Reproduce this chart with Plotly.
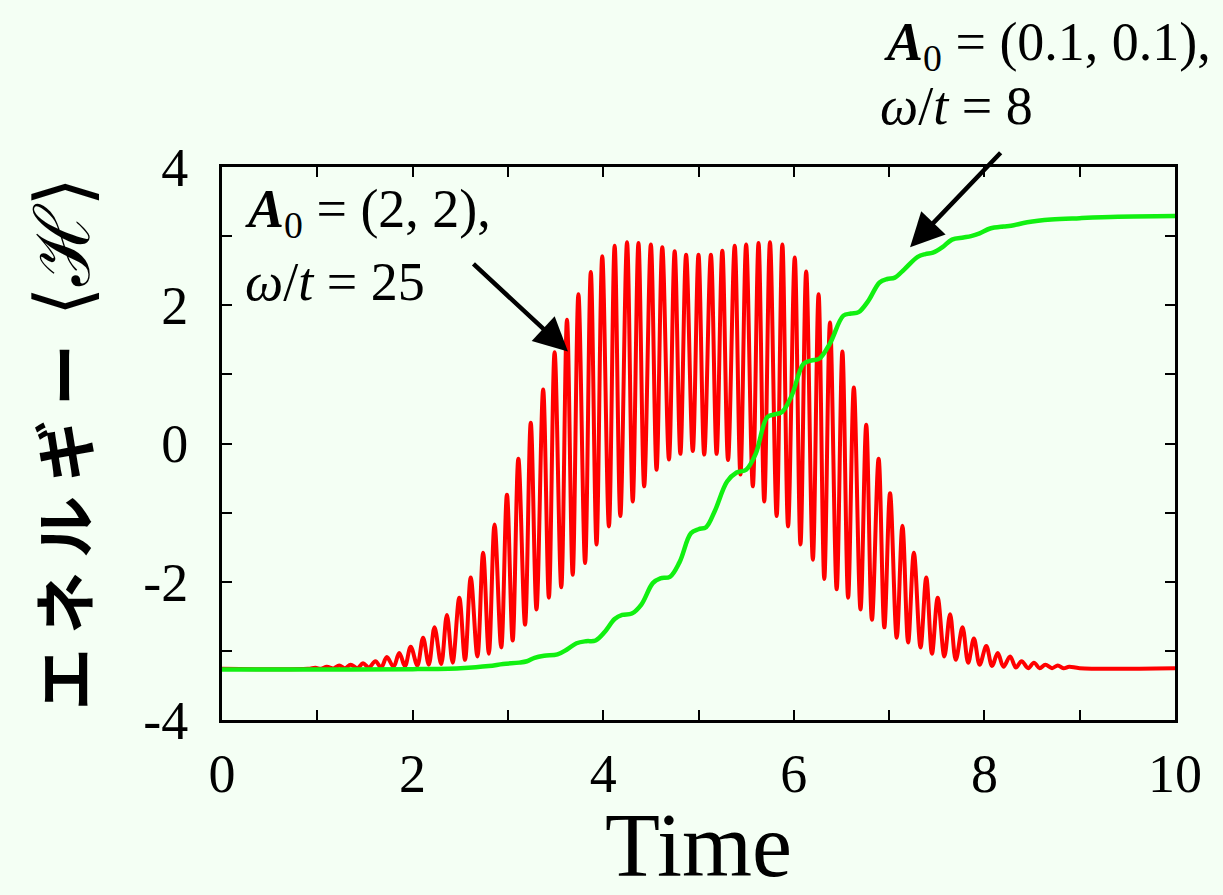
import plotly.graph_objects as go

# ---------------- data ----------------
# red curve: A0=(2,2), w/t=25 -- local maxima and minima
red_peak_t = [0.98, 1.10, 1.23, 1.35, 1.48, 1.61, 1.73, 1.86, 1.98, 2.11, 2.23, 2.36, 2.49, 2.61,
              2.74, 2.86, 2.99, 3.11, 3.24, 3.37, 3.49, 3.62, 3.74, 3.87, 3.99, 4.12, 4.25,
              4.37, 4.50, 4.62, 4.75, 4.87, 5.00, 5.13, 5.25, 5.38, 5.50, 5.63, 5.75, 5.88,
              6.01, 6.13, 6.26, 6.38, 6.51, 6.63, 6.76, 6.89, 7.01, 7.14, 7.26, 7.39, 7.51,
              7.64, 7.77, 7.89, 8.02, 8.14, 8.27, 8.39, 8.52, 8.64, 8.77, 8.89]
red_peak_v = [-3.245, -3.23, -3.21, -3.20, -3.18, -3.15, -3.09, -3.03, -2.94, -2.81, -2.66, -2.48,
              -2.23, -1.94, -1.58, -1.17, -0.74, -0.22, 0.30, 0.78, 1.32, 1.79, 2.16, 2.48,
              2.71, 2.86, 2.91, 2.90, 2.88, 2.84, 2.78, 2.73, 2.73, 2.73, 2.79, 2.86, 2.88,
              2.90, 2.91, 2.88, 2.69, 2.49, 2.16, 1.75, 1.33, 0.81, 0.27, -0.22, -0.72, -1.19,
              -1.58, -1.94, -2.23, -2.47, -2.66, -2.82, -2.93, -3.03, -3.08, -3.15, -3.17,
              -3.20, -3.21, -3.23]
red_trough_t = [1.04, 1.17, 1.29, 1.42, 1.54, 1.67, 1.80, 1.92, 2.05, 2.17, 2.30, 2.42, 2.55, 2.68,
                2.80, 2.93, 3.05, 3.18, 3.30, 3.43, 3.56, 3.68, 3.81, 3.93, 4.06, 4.18, 4.31,
                4.43, 4.56, 4.69, 4.81, 4.94, 5.06, 5.19, 5.31, 5.44, 5.57, 5.69, 5.82, 5.94,
                6.07, 6.20, 6.32, 6.45, 6.57, 6.70, 6.82, 6.95, 7.08, 7.20, 7.33, 7.45, 7.58,
                7.70, 7.83, 7.95, 8.08, 8.20, 8.33, 8.46, 8.58, 8.71, 8.83]
red_trough_v = [-3.26, -3.255, -3.25, -3.25, -3.24, -3.24, -3.23, -3.22, -3.21, -3.20, -3.19, -3.17,
                -3.13, -3.08, -3.04, -2.95, -2.85, -2.62, -2.40, -2.23, -2.08, -1.90, -1.73,
                -1.46, -1.20, -1.05, -0.84, -0.62, -0.38, -0.23, -0.15, -0.11, -0.16, -0.15,
                -0.24, -0.45, -0.62, -0.84, -1.05, -1.20, -1.46, -1.68, -1.96, -2.11, -2.23,
                -2.40, -2.55, -2.66, -2.81, -2.88, -2.95, -3.04, -3.08, -3.13, -3.17, -3.20,
                -3.22, -3.23, -3.24, -3.25, -3.25, -3.25, -3.25]
red_flat_t = [0.0, 0.9, 9.0, 10.0]
red_flat_v = [-3.26, -3.26, -3.25, -3.25]

# green curve: A0=(0.1,0.1), w/t=8
green_t = [0.0, 1.0, 2.0, 2.5, 2.8, 2.95, 3.12, 3.2, 3.28, 3.38, 3.52, 3.62, 3.72, 3.82, 3.92,
           4.02, 4.12, 4.2, 4.3, 4.4, 4.52, 4.6, 4.7, 4.8, 4.92, 5.0, 5.08, 5.17, 5.3, 5.4,
           5.5, 5.6, 5.72, 5.8, 5.88, 5.98, 6.1, 6.18, 6.27, 6.38, 6.52, 6.6, 6.68, 6.78, 6.9,
           6.98, 7.06, 7.16, 7.3, 7.38, 7.46, 7.56, 7.66, 7.78, 7.86, 7.95, 8.06, 8.2, 8.28,
           8.45, 8.7, 9.0, 9.4, 10.0]
green_v = [-3.27, -3.27, -3.265, -3.25, -3.22, -3.19, -3.17, -3.15, -3.10, -3.07, -3.05, -2.98,
           -2.89, -2.86, -2.85, -2.72, -2.54, -2.48, -2.46, -2.33, -2.02, -1.95, -1.93, -1.72,
           -1.30, -1.24, -1.21, -0.98, -0.55, -0.42, -0.38, -0.15, 0.38, 0.42, 0.46, 0.70, 1.15,
           1.20, 1.23, 1.45, 1.85, 1.88, 1.90, 2.06, 2.33, 2.38, 2.40, 2.52, 2.70, 2.74, 2.76,
           2.84, 2.95, 2.98, 3.00, 3.04, 3.11, 3.14, 3.15, 3.20, 3.24, 3.26, 3.28, 3.29]

x_tickvals = [0, 2, 4, 6, 8, 10]
x_ticktext = ["0", "2", "4", "6", "8", "10"]
y_tickvals = [-4, -2, 0, 2, 4]
y_ticktext = ["-4", "-2", "0", "2", "4"]

# ---------------- build figure ----------------
pts = sorted(zip(red_flat_t + red_peak_t + red_trough_t,
                 red_flat_v + red_peak_v + red_trough_v))
red_t = [p[0] for p in pts]
red_v = [p[1] for p in pts]

SERIF = "Liberation Serif, Times New Roman, serif"
BG = "#f4fff4"

fig = go.Figure()
fig.add_trace(go.Scatter(x=red_t, y=red_v, mode="lines",
                         line=dict(color="#ff0000", width=4, shape="spline", smoothing=1.0),
                         showlegend=False))
fig.add_trace(go.Scatter(x=green_t, y=green_v, mode="lines",
                         line=dict(color="#11f011", width=4.5, shape="spline", smoothing=1.0),
                         showlegend=False))

axis_common = dict(showline=True, linecolor="black", linewidth=3, mirror="ticks",
                   ticks="inside", ticklen=10, tickwidth=2, tickcolor="black",
                   showgrid=False, zeroline=False,
                   minor=dict(ticks="inside", dtick=1, ticklen=10, tickwidth=2,
                              tickcolor="black", showgrid=False),
                   tickfont=dict(family=SERIF, size=54, color="black"))

fig.update_xaxes(range=[0, 10], tickmode="array", tickvals=x_tickvals, ticktext=x_ticktext,
                 ticklabelstandoff=4,
                 title=dict(text="Time", font=dict(family=SERIF, size=90, color="black"),
                            standoff=0),
                 **axis_common)
fig.update_yaxes(range=[-4, 4], tickmode="array", tickvals=y_tickvals, ticktext=y_ticktext,
                 ticklabelstandoff=20,
                 title=dict(text="<b>エ ネ ル ギ ー</b>  <span style='font-family:DejaVu Serif;font-size:76px'>⟨ℋ⟩</span>",
                            font=dict(family="Noto Sans CJK JP", size=62, color="black"),
                            standoff=34),
                 **axis_common)

ann_font = dict(family=SERIF, size=54, color="black")
annotations = [
    dict(x=0.022, y=0.917, xref="paper", yref="paper", xanchor="left", yanchor="middle", showarrow=False,
         text="<b><i>A</i></b><sub>0</sub> = (2, 2),", font=ann_font),
    dict(x=0.022, y=0.792, xref="paper", yref="paper", xanchor="left", yanchor="middle", showarrow=False,
         text="<i>ω</i>/<i>t</i> = 25", font=ann_font),
    dict(x=0.693, y=1.22, xref="paper", yref="paper", xanchor="left", yanchor="middle", showarrow=False,
         text="<b><i>A</i></b><sub>0</sub> = (0.1, 0.1),", font=ann_font),
    dict(x=0.688, y=1.11, xref="paper", yref="paper", xanchor="left", yanchor="middle", showarrow=False,
         text="<i>ω</i>/<i>t</i> = 8", font=ann_font),
    dict(x=3.63, y=1.33, ax=-96, ay=-89, xref="x", yref="y", axref="pixel", ayref="pixel",
         showarrow=True, arrowhead=2, arrowsize=1.5, arrowwidth=4.5, arrowcolor="black", text=""),
    dict(x=7.22, y=2.84, ax=92, ay=-96, xref="x", yref="y", axref="pixel", ayref="pixel",
         showarrow=True, arrowhead=2, arrowsize=1.5, arrowwidth=4.5, arrowcolor="black", text=""),
]

fig.update_layout(width=1223, height=895, paper_bgcolor=BG, plot_bgcolor=BG,
                  margin=dict(l=222, r=48, t=167, b=175), annotations=annotations,
                  showlegend=False)

fig.write_html("out.html", config={"displayModeBar": False})

# remove the default page margin so the figure sits at the window's top-left corner
with open("out.html", "r", encoding="utf-8") as f:
    html = f.read()
html = html.replace("<head>", "<head><style>html,body{margin:0;padding:0;background:%s;}</style>" % BG, 1)
with open("out.html", "w", encoding="utf-8") as f:
    f.write(html)
